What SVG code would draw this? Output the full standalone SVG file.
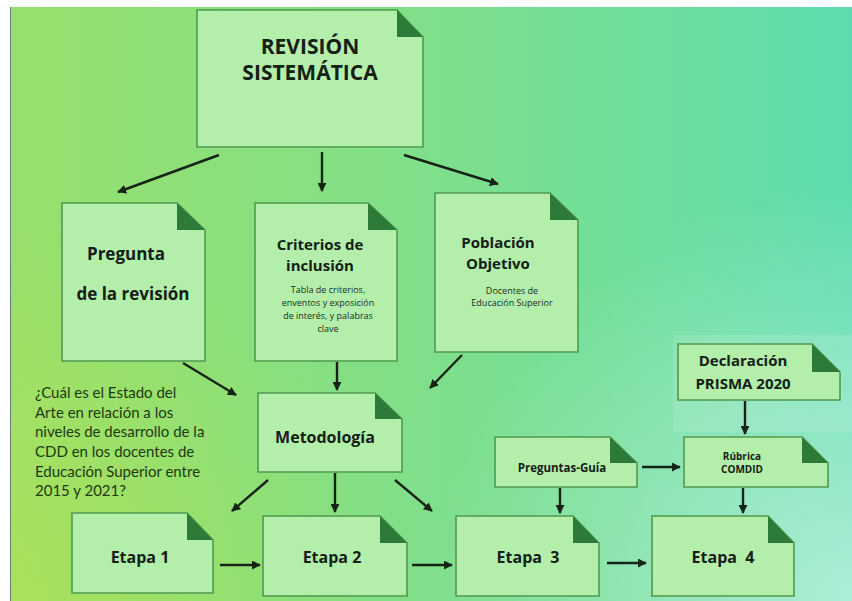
<svg xmlns="http://www.w3.org/2000/svg" width="852" height="601" viewBox="0 0 852 601">
<defs>
<linearGradient id="bg" x1="0" y1="0" x2="1" y2="0">
<stop offset="0" stop-color="#98e06c"/>
<stop offset="0.5" stop-color="#7fdf8a"/>
<stop offset="1" stop-color="#5cdcae"/>
</linearGradient>
<radialGradient id="br" cx="852" cy="601" r="420" gradientUnits="userSpaceOnUse">
<stop offset="0" stop-color="#ffffff" stop-opacity="0.5"/>
<stop offset="1" stop-color="#ffffff" stop-opacity="0"/>
</radialGradient>
<radialGradient id="bl" cx="0" cy="601" r="380" gradientUnits="userSpaceOnUse">
<stop offset="0" stop-color="#b8e24a" stop-opacity="0.55"/>
<stop offset="1" stop-color="#b8e24a" stop-opacity="0"/>
</radialGradient>
<marker id="ah" viewBox="0 0 10 10" refX="9" refY="5" markerWidth="9" markerHeight="9" markerUnits="userSpaceOnUse" orient="auto">
<path d="M0,0 L10,5 L0,10 z" fill="#152415"/>
</marker>
</defs>
<style>
.box{fill:#b3efab;stroke:#4f9a4f;stroke-width:1.6}
.fold{fill:#2e7a38}
.h{font-family:"Open Sans","Noto Sans",sans-serif;font-weight:700;fill:#152015;text-anchor:middle}
.s{font-family:"Open Sans","Noto Sans",sans-serif;font-weight:400;fill:#1d2d1d;text-anchor:middle;font-size:9px}
.q{font-family:Lato,"Open Sans",sans-serif;fill:#1e3a12;font-size:15px}
.c line{stroke:#152415;stroke-width:2.4;marker-end:url(#ah)}
</style>
<rect width="852" height="601" fill="#ffffff"/>
<rect x="10" y="7" width="842" height="594" fill="url(#bg)"/>
<rect x="10" y="7" width="842" height="594" fill="url(#bl)"/>
<rect x="10" y="7" width="842" height="594" fill="url(#br)"/>
<line x1="10.5" y1="7" x2="10.5" y2="601" stroke="#6a7a6a" stroke-width="1"/>
<rect x="673" y="335" width="179" height="97" fill="#ffffff" opacity="0.12"/>

<g id="n-revision">
<path class="box" d="M197,10 H397 L423,37 V147 H197 Z"/>
<path class="fold" d="M397,10 V37 H423 Z"/>
<text class="h" x="310" y="54" font-size="21">REVISIÓN</text>
<text class="h" x="310" y="80" font-size="21">SISTEMÁTICA</text>
</g>
<g id="n-pregunta">
<path class="box" d="M62,203 H177 L205,230 V361 H62 Z"/>
<path class="fold" d="M177,203 V230 H205 Z"/>
<text class="h" x="126" y="260" font-size="17">Pregunta</text>
<text class="h" x="133" y="300" font-size="17">de la revisión</text>
</g>
<g id="n-criterios">
<path class="box" d="M255,203 H368 L397,230 V361 H255 Z"/>
<path class="fold" d="M368,203 V230 H397 Z"/>
<text class="h" x="320" y="250" font-size="15">Criterios de</text>
<text class="h" x="320" y="271" font-size="15">inclusión</text>
<text class="s" x="328" y="293">Tabla de criterios,</text>
<text class="s" x="328" y="306">enventos y exposición</text>
<text class="s" x="328" y="319">de interés, y palabras</text>
<text class="s" x="328" y="332">clave</text>
</g>
<g id="n-poblacion">
<path class="box" d="M435,193 H550 L578,220 V352 H435 Z"/>
<path class="fold" d="M550,193 V220 H578 Z"/>
<text class="h" x="498" y="248" font-size="15">Población</text>
<text class="h" x="498" y="269" font-size="15">Objetivo</text>
<text class="s" x="512" y="294">Docentes de</text>
<text class="s" x="512" y="306">Educación Superior</text>
</g>
<g id="n-pregunta-texto">
<text class="q" x="35" y="398">¿Cuál es el Estado del</text>
<text class="q" x="35" y="418">Arte en relación a los</text>
<text class="q" x="35" y="437">niveles de desarrollo de la</text>
<text class="q" x="35" y="457">CDD en los docentes de</text>
<text class="q" x="35" y="477">Educación Superior entre</text>
<text class="q" x="35" y="496">2015 y 2021?</text>
</g>
<g id="n-metodologia">
<path class="box" d="M258,393 H375 L402,419 V472 H258 Z"/>
<path class="fold" d="M375,393 V419 H402 Z"/>
<text class="h" x="325" y="443" font-size="16">Metodología</text>
</g>
<g id="n-prisma">
<path class="box" d="M678,344 H812 L840,372 V400 H678 Z"/>
<path class="fold" d="M812,344 V372 H840 Z"/>
<text class="h" x="743" y="366" font-size="15" font-weight="600">Declaración</text>
<text class="h" x="743" y="389" font-size="15" font-weight="600">PRISMA 2020</text>
</g>
<g id="n-preguntas-guia">
<path class="box" d="M495,437 H610 L637,463 V487 H495 Z"/>
<path class="fold" d="M610,437 V463 H637 Z"/>
<text class="h" x="562" y="472" font-size="11.5">Preguntas-Guía</text>
</g>
<g id="n-rubrica">
<path class="box" d="M684,437 H802 L828,463 V487 H684 Z"/>
<path class="fold" d="M802,437 V463 H828 Z"/>
<text class="h" x="742" y="460" font-size="10">Rúbrica</text>
<text class="h" x="742" y="473" font-size="10">COMDID</text>
</g>
<g id="n-etapa1">
<path class="box" d="M72,513 H187 L213,540 V593 H72 Z"/>
<path class="fold" d="M187,513 V540 H213 Z"/>
<text class="h" x="140" y="563" font-size="16">Etapa 1</text>
</g>
<g id="n-etapa2">
<path class="box" d="M263,516 H380 L407,543 V596 H263 Z"/>
<path class="fold" d="M380,516 V543 H407 Z"/>
<text class="h" x="332" y="563" font-size="16">Etapa 2</text>
</g>
<g id="n-etapa3">
<path class="box" d="M456,516 H573 L599,543 V596 H456 Z"/>
<path class="fold" d="M573,516 V543 H599 Z"/>
<text class="h" x="528" y="563" font-size="16" xml:space="preserve">Etapa  3</text>
</g>
<g id="n-etapa4">
<path class="box" d="M652,516 H768 L794,543 V596 H652 Z"/>
<path class="fold" d="M768,516 V543 H794 Z"/>
<text class="h" x="723" y="563" font-size="16" xml:space="preserve">Etapa  4</text>
</g>

<g id="connectors" class="c">
<line x1="219" y1="155" x2="118" y2="192"/>
<line x1="322" y1="152" x2="322" y2="191"/>
<line x1="404" y1="155" x2="498" y2="184"/>
<line x1="183" y1="363" x2="236" y2="395"/>
<line x1="337" y1="362" x2="337" y2="390"/>
<line x1="462" y1="355" x2="430" y2="388"/>
<line x1="268" y1="480" x2="232" y2="511"/>
<line x1="335" y1="473" x2="335" y2="512"/>
<line x1="395" y1="480" x2="432" y2="511"/>
<line x1="220" y1="565" x2="260" y2="565"/>
<line x1="412" y1="565" x2="452" y2="565"/>
<line x1="607" y1="563" x2="646" y2="563"/>
<line x1="560" y1="488" x2="560" y2="513"/>
<line x1="743" y1="488" x2="743" y2="513"/>
<line x1="745" y1="401" x2="745" y2="434"/>
<line x1="642" y1="467" x2="680" y2="467"/>
</g>
</svg>
